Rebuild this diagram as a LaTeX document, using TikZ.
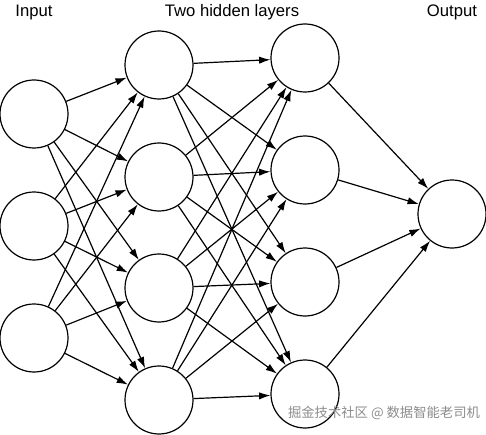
\documentclass[tikz,border=0pt]{standalone}
\usepackage{fontspec}
\setmainfont{Liberation Sans}
\newfontfamily\cjkfont{Noto Sans CJK SC}
\usetikzlibrary{arrows.meta}

\begin{document}
\begin{tikzpicture}[
    x=0.75pt, y=-0.75pt,
    neuron/.style={circle, draw, line width=0.9pt, minimum size=51pt, inner sep=0pt},
    title/.style={font=\fontsize{12.5}{14}\selectfont},
    arrow/.style={-{Latex[length=8.5pt,width=5.5pt]}, line width=0.9pt}
  ]
    \useasboundingbox (0,0) rectangle (486,435);

    \node[title] (tin) at (34,12) {Input};
    \node[title] (thid) at (232,12) {Two hidden layers};
    \node[title] (tout) at (452,12) {Output};

    % input layer
    \node[neuron] (i1) at (34,114) {};
    \node[neuron] (i2) at (34,226) {};
    \node[neuron] (i3) at (34,338) {};

    % first hidden layer
    \node[neuron] (a1) at (159,65) {};
    \node[neuron] (a2) at (159,177) {};
    \node[neuron] (a3) at (159,288) {};
    \node[neuron] (a4) at (159,400) {};

    % second hidden layer
    \node[neuron] (b1) at (305,58) {};
    \node[neuron] (b2) at (305,170) {};
    \node[neuron] (b3) at (305,282) {};
    \node[neuron] (b4) at (305,394) {};

    % output layer
    \node[neuron] (o1) at (452,214) {};

    \draw[arrow] (i1) -- (a1);
    \draw[arrow] (i1) -- (a2);
    \draw[arrow] (i1) -- (a3);
    \draw[arrow] (i1) -- (a4);
    \draw[arrow] (i2) -- (a1);
    \draw[arrow] (i2) -- (a2);
    \draw[arrow] (i2) -- (a3);
    \draw[arrow] (i2) -- (a4);
    \draw[arrow] (i3) -- (a1);
    \draw[arrow] (i3) -- (a2);
    \draw[arrow] (i3) -- (a3);
    \draw[arrow] (i3) -- (a4);

    \draw[arrow] (a1) -- (b1);
    \draw[arrow] (a1) -- (b2);
    \draw[arrow] (a1) -- (b3);
    \draw[arrow] (a1) -- (b4);
    \draw[arrow] (a2) -- (b1);
    \draw[arrow] (a2) -- (b2);
    \draw[arrow] (a2) -- (b3);
    \draw[arrow] (a2) -- (b4);
    \draw[arrow] (a3) -- (b1);
    \draw[arrow] (a3) -- (b2);
    \draw[arrow] (a3) -- (b3);
    \draw[arrow] (a3) -- (b4);
    \draw[arrow] (a4) -- (b1);
    \draw[arrow] (a4) -- (b2);
    \draw[arrow] (a4) -- (b3);
    \draw[arrow] (a4) -- (b4);

    \draw[arrow] (b1) -- (o1);
    \draw[arrow] (b2) -- (o1);
    \draw[arrow] (b3) -- (o1);
    \draw[arrow] (b4) -- (o1);

    \node[font=\cjkfont\fontsize{10}{12}\selectfont, text=black!45] (mark) at (384,413) {掘金技术社区 @ 数据智能老司机};
\end{tikzpicture}
\end{document}
